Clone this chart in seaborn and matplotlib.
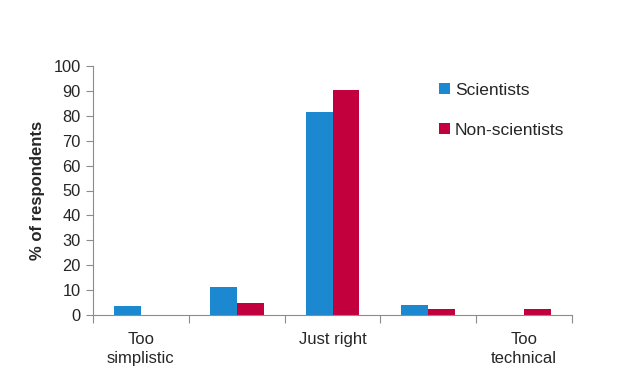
import matplotlib
matplotlib.use("Agg")
import matplotlib.pyplot as plt
import seaborn as sns
import pandas as pd
import numpy as np

categories = ["Too\nsimplistic", "c2", "Just right", "c4", "Too\ntechnical"]
tick_labels = ["Too\nsimplistic", "", "Just right", "", "Too\ntechnical"]
scientists = [3.6, 11.2, 81.5, 3.9, 0.0]
non_scientists = [0.0, 4.8, 90.4, 2.6, 2.5]
series = ["Scientists", "Non-scientists"]
colors = ["#1B88D0", "#C2003D"]

df = pd.DataFrame({
    "cat": categories * 2,
    "val": scientists + non_scientists,
    "grp": [series[0]] * 5 + [series[1]] * 5,
})

sns.set_theme(style="white")
plt.rcParams["font.family"] = ["Liberation Sans", "DejaVu Sans"]

fig = plt.figure(figsize=(6.17, 3.70), dpi=100)
ax = fig.add_axes([93 / 617, 1 - 315 / 370, (572 - 93) / 617, (315 - 66) / 370])
sns.barplot(data=df, x="cat", y="val", hue="grp", order=categories,
            hue_order=series, palette=colors, width=0.5625, gap=0,
            saturation=1, linewidth=0, ax=ax, legend=True)

ax.set_xlim(-0.5, 4.5)
ax.set_ylim(0, 100)
ax.set_yticks(np.arange(0, 101, 10))
ax.tick_params(axis="y", labelsize=11.8, length=5, width=0.8, color="#8c8c8c",
               left=True, pad=4)
ax.set_xticks(range(5))
ax.set_xticklabels(tick_labels, fontsize=12)
ax.set_xticks(np.arange(-0.5, 4.6, 1), minor=True)
ax.tick_params(axis="x", which="major", length=0, pad=12)
ax.tick_params(axis="x", which="minor", length=6, width=0.8, color="#8c8c8c",
               bottom=True)
for lab in ax.get_xticklabels():
    lab.set_linespacing(1.4)

for s in ["top", "right"]:
    ax.spines[s].set_visible(False)
for s in ["left", "bottom"]:
    ax.spines[s].set_color("#8c8c8c")
    ax.spines[s].set_linewidth(0.8)

ax.set_xlabel("")
ax.set_ylabel("% of respondents", fontsize=12, fontweight="bold", labelpad=6)

leg = ax.legend(loc="upper left", bbox_to_anchor=(0.69, 0.995), frameon=False,
                fontsize=12.5, handlelength=0.6, handleheight=0.6,
                handletextpad=0.3, labelspacing=1.45)

fig.savefig("out.png", dpi=100)
